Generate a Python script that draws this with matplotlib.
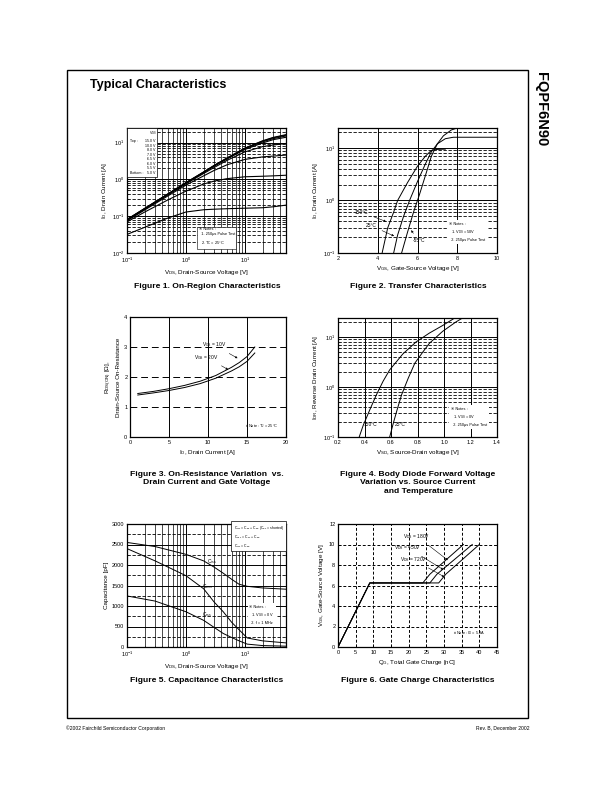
import matplotlib
matplotlib.use('Agg')
import matplotlib.pyplot as plt
from matplotlib.patches import Rectangle
from matplotlib.ticker import MultipleLocator, NullFormatter

plt.rcParams['font.family'] = ['Liberation Sans', 'DejaVu Sans', 'Noto Sans CJK JP']
plt.rcParams['mathtext.fontset'] = 'custom'
plt.rcParams['mathtext.rm'] = 'Liberation Sans'
plt.rcParams['mathtext.it'] = 'Liberation Sans:italic'
plt.rcParams['mathtext.bf'] = 'Liberation Sans:bold'
plt.rcParams['mathtext.default'] = 'regular'

# ---- Figure 1: on-region characteristics (V_DS, I_D per V_GS) ----
vds1 = [0.1, 0.2, 0.5, 1, 2, 3, 5, 10, 20, 30, 50]
on_region = {
    '15.0 V': [0.082, 0.164, 0.41, 0.82, 1.6, 2.4, 3.85, 7.1, 11.2, 13.8, 16.5],
    '10.0 V': [0.081, 0.162, 0.405, 0.81, 1.58, 2.37, 3.8, 7.0, 11.0, 13.5, 16.0],
    '8.0 V': [0.080, 0.160, 0.40, 0.80, 1.56, 2.33, 3.72, 6.8, 10.5, 12.8, 15.2],
    '7.0 V': [0.079, 0.158, 0.395, 0.79, 1.53, 2.28, 3.6, 6.5, 9.8, 12.0, 14.0],
    '6.5 V': [0.078, 0.155, 0.385, 0.76, 1.45, 2.1, 3.3, 5.6, 7.8, 8.6, 9.5],
    '6.0 V': [0.075, 0.148, 0.36, 0.70, 1.25, 1.75, 2.5, 3.5, 4.1, 4.3, 4.6],
    '5.5 V': [0.070, 0.13, 0.28, 0.48, 0.75, 0.9, 1.05, 1.18, 1.22, 1.25, 1.3],
    '5.0 V': [0.032, 0.05, 0.09, 0.13, 0.15, 0.155, 0.16, 0.165, 0.17, 0.18, 0.2],
}

# ---- Figure 2: transfer characteristics ----
vgs_150 = [4.22, 4.5, 4.8, 5.0, 5.5, 6.0, 6.4, 6.7, 7.0, 7.4]
id_150 = [0.1, 0.3, 0.6, 1.0, 2.2, 4.5, 7.0, 9.0, 9.4, 9.5]
vgs_25 = [4.8, 5.0, 5.3, 5.6, 6.0, 6.4, 6.7, 7.0, 7.4, 7.8, 10]
id_25 = [0.1, 0.22, 0.5, 1.0, 2.3, 5.0, 8.5, 12, 15, 16, 16]
vgs_m55 = [5.2, 5.5, 5.8, 6.1, 6.4, 6.7, 7.0, 7.3, 7.7, 8.0, 10]
id_m55 = [0.1, 0.25, 0.6, 1.3, 3.0, 7.0, 12, 17, 22, 24, 24]

# ---- Figure 3: on-resistance vs drain current ----
id3 = [1, 3, 5, 7, 9, 11, 13, 14, 15, 16]
rds_10v = [1.45, 1.52, 1.61, 1.72, 1.86, 2.05, 2.32, 2.48, 2.68, 3.0]
rds_20v = [1.40, 1.47, 1.55, 1.65, 1.78, 1.96, 2.20, 2.34, 2.52, 2.8]

# ---- Figure 4: body diode forward voltage ----
vsd_150 = [0.36, 0.39, 0.44, 0.49, 0.54, 0.59, 0.69, 0.79, 0.89, 0.99, 1.07]
isd_150 = [0.1, 0.17, 0.35, 0.7, 1.3, 2.2, 4.6, 8.0, 12, 17, 23]
vsd_25 = [0.59, 0.62, 0.65, 0.68, 0.73, 0.78, 0.84, 0.89, 0.99, 1.09, 1.14]
isd_25 = [0.1, 0.2, 0.38, 0.7, 1.5, 3.0, 5.0, 7.5, 13, 20, 24]

# ---- Figure 5: capacitance ----
vds5 = [0.1, 0.3, 1, 2, 3, 4.3, 6, 8, 11, 20, 50]
c_iss = [2550, 2450, 2260, 2100, 1950, 1800, 1650, 1530, 1480, 1440, 1410]
c_oss = [2400, 2100, 1740, 1420, 1100, 860, 600, 420, 220, 150, 100]
c_rss = [1245, 1120, 860, 650, 480, 330, 230, 150, 70, 35, 20]

# ---- Figure 6: gate charge ----
qg_180 = [0, 9, 24, 26, 35.5]
qg_450 = [0, 9, 26, 28, 38]
qg_720 = [0, 9, 28.5, 30.5, 40]
vgs6 = [0, 6.25, 6.25, 7.1, 10]

W, H = 612, 792
fig = plt.figure(figsize=(6.12, 7.92), dpi=100)


def box(l, t, r, b):
    return [l / W, 1 - b / H, (r - l) / W, (b - t) / H]


def ftext(x, y, s, **kw):
    fig.text(x / W, 1 - y / H, s, **kw)


def style(ax):
    ax.tick_params(which='both', direction='in', labelsize=4, length=2, width=0.5, pad=2)
    ax.tick_params(which='minor', length=1)
    for sp in ax.spines.values():
        sp.set_linewidth(0.9)


def note(ax, x, y, s, edge='none'):
    ax.text(x, y, s, transform=ax.transAxes, fontsize=2.8, va='center', ha='left',
            linespacing=1.6, zorder=5,
            bbox=dict(boxstyle='square,pad=0.4', fc='white', ec=edge, lw=0.4))


solid = dict(color='k', lw=0.7, ls='-')
arrow = dict(arrowstyle='-|>', lw=0.4, color='k', mutation_scale=3)
lbl = dict(fontsize=4.5, labelpad=2)
cap = dict(fontsize=6.1, fontweight='bold', ha='center')

# page frame
fig.add_artist(Rectangle((67 / W, 1 - 718 / H), (528 - 67) / W, (718 - 70) / H,
                         transform=fig.transFigure, fill=False, lw=1.0, ec='k'))
ftext(90, 85, 'Typical Characteristics', fontsize=9, fontweight='bold', va='center')
ftext(541, 72, 'FQPF6N90', fontsize=10.5, fontweight='bold', rotation=-90, va='top', ha='center')
ftext(66, 728, '\u00a92002 Fairchild Semiconductor Corporation', fontsize=3.6, va='center')
ftext(530, 728, 'Rev. B, December 2002', fontsize=3.6, va='center', ha='right')

# Figure 1
ax1 = fig.add_axes(box(127, 128, 286, 253))
ax1.set_xscale('log')
ax1.set_yscale('log')
for k, v in on_region.items():
    ax1.plot(vds1, v, color='k', lw=0.8)
ax1.set_xlim(0.1, 50)
ax1.set_ylim(0.01, 25)
ax1.xaxis.set_minor_formatter(NullFormatter())
ax1.yaxis.set_minor_formatter(NullFormatter())
ax1.grid(True, which='major', **solid)
ax1.grid(True, which='minor', axis='x', color='k', lw=0.5, ls='-')
ax1.grid(True, which='minor', axis='y', color='k', lw=0.6, ls=(0, (4, 2)))
style(ax1)
ax1.add_patch(Rectangle((0, 0.61), 0.19, 0.39, transform=ax1.transAxes,
                        fc='white', ec='k', lw=0.5, zorder=4))
ax1.text(0.165, 0.985, 'V$_{GS}$', transform=ax1.transAxes, fontsize=2.6,
         ha='center', va='top', zorder=5)
ax1.text(0.02, 0.895, 'Top :', transform=ax1.transAxes, fontsize=2.6, va='center', zorder=5)
ax1.text(0.02, 0.643, 'Bottom :', transform=ax1.transAxes, fontsize=2.6, va='center', zorder=5)
for i, k in enumerate(on_region):
    ax1.text(0.18, 0.895 - i * 0.036, k, transform=ax1.transAxes, fontsize=2.6,
             ha='right', va='center', zorder=5)
note(ax1, 0.45, 0.13, '\u203b Notes :\n  1. 250\u03bcs Pulse Test\n  2. T$_C$ = 25\u00b0C', edge='k')
ax1.set_xlabel('V$_{DS}$, Drain-Source Voltage [V]', **lbl)
ax1.set_ylabel('I$_D$, Drain Current [A]', **lbl)
ftext(207, 287, 'Figure 1. On-Region Characteristics', va='center', **cap)

# Figure 2
ax2 = fig.add_axes(box(338, 128, 497, 253))
ax2.set_yscale('log')
ax2.plot(vgs_150, id_150, color='k', lw=0.7)
ax2.plot(vgs_25, id_25, color='k', lw=0.7)
ax2.plot(vgs_m55, id_m55, color='k', lw=0.7)
ax2.set_xlim(2, 10)
ax2.set_ylim(0.1, 24)
ax2.xaxis.set_major_locator(MultipleLocator(2))
ax2.yaxis.set_minor_formatter(NullFormatter())
ax2.grid(True, which='major', **solid)
ax2.grid(True, which='minor', axis='y', color='k', lw=0.6, ls=(0, (4, 2)))
style(ax2)
ax2.annotate('150\u00b0C', xy=(4.55, 0.38), xytext=(2.85, 0.6), fontsize=3.5,
             va='center', arrowprops=arrow)
ax2.annotate('25\u00b0C', xy=(4.95, 0.2), xytext=(3.4, 0.33), fontsize=3.5,
             va='center', arrowprops=arrow)
ax2.annotate('-55\u00b0C', xy=(5.6, 0.3), xytext=(5.75, 0.17), fontsize=3.5,
             va='center', arrowprops=arrow)
note(ax2, 0.70, 0.17, '\u203b Notes :\n  1. V$_{DS}$ = 50V\n  2. 250\u03bcs Pulse Test')
ax2.set_xlabel('V$_{GS}$, Gate-Source Voltage [V]', **lbl)
ax2.set_ylabel('I$_D$, Drain Current [A]', **lbl)
ftext(418, 287, 'Figure 2. Transfer Characteristics', va='center', **cap)

# Figure 3
ax3 = fig.add_axes(box(130, 317, 286, 437))
ax3.plot(id3, rds_10v, color='k', lw=0.7)
ax3.plot(id3, rds_20v, color='k', lw=0.7)
ax3.set_xlim(0, 20)
ax3.set_ylim(0, 4)
ax3.xaxis.set_major_locator(MultipleLocator(5))
ax3.yaxis.set_major_locator(MultipleLocator(1))
ax3.grid(True, which='major', axis='x', **solid)
ax3.grid(True, which='major', axis='y', color='k', lw=0.7, ls=(0, (7, 4)))
style(ax3)
ax3.annotate('V$_{GS}$ = 10V', xy=(14.1, 2.58), xytext=(9.2, 3.07), fontsize=3.5,
             va='center', arrowprops=arrow)
ax3.annotate('V$_{GS}$ = 20V', xy=(12.9, 2.2), xytext=(8.2, 2.66), fontsize=3.5,
             va='center', arrowprops=arrow)
ax3.text(14.7, 0.36, '\u203b Note : T$_J$ = 25\u00b0C', fontsize=2.8, va='center')
ax3.set_xlabel('I$_D$, Drain Current [A]', **lbl)
ax3.set_ylabel('R$_{DS(ON)}$ [\u03a9],\nDrain-Source On-Resistance', linespacing=1.5, **lbl)
ftext(207, 471, 'Figure 3. On-Resistance Variation  vs.\nDrain Current and Gate Voltage',
      va='top', linespacing=1.3, **cap)

# Figure 4
ax4 = fig.add_axes(box(338, 318, 497, 437))
ax4.set_yscale('log')
ax4.plot(vsd_150, isd_150, color='k', lw=0.7)
ax4.plot(vsd_25, isd_25, color='k', lw=0.7)
ax4.set_xlim(0.2, 1.4)
ax4.set_ylim(0.1, 24)
ax4.xaxis.set_major_locator(MultipleLocator(0.2))
ax4.yaxis.set_minor_formatter(NullFormatter())
ax4.grid(True, which='major', **solid)
ax4.grid(True, which='minor', axis='y', color='k', lw=0.6, ls=(0, (4, 2)))
style(ax4)
ax4.text(0.39, 0.18, '150\u00b0C', fontsize=3.5, va='center')
ax4.text(0.63, 0.18, '25\u00b0C', fontsize=3.5, va='center')
note(ax4, 0.71, 0.17, '\u203b Notes :\n  1. V$_{GS}$ = 0V\n  2. 250\u03bcs Pulse Test')
ax4.set_xlabel('V$_{SD}$, Source-Drain voltage [V]', **lbl)
ax4.set_ylabel('I$_{DR}$, Reverse Drain Current [A]', **lbl)
ftext(418, 471, 'Figure 4. Body Diode Forward Voltage\nVariation vs. Source Current\nand Temperature',
      va='top', linespacing=1.3, **cap)

# Figure 5
ax5 = fig.add_axes(box(127, 524, 286, 647))
ax5.set_xscale('log')
ax5.plot(vds5, c_iss, color='k', lw=0.7)
ax5.plot(vds5, c_oss, color='k', lw=0.7)
ax5.plot(vds5, c_rss, color='k', lw=0.7)
ax5.set_xlim(0.1, 50)
ax5.set_ylim(0, 3000)
ax5.yaxis.set_major_locator(MultipleLocator(500))
ax5.yaxis.set_minor_locator(MultipleLocator(250))
ax5.xaxis.set_minor_formatter(NullFormatter())
ax5.grid(True, which='major', **solid)
ax5.grid(True, which='minor', axis='x', color='k', lw=0.5, ls='-')
ax5.grid(True, which='minor', axis='y', color='k', lw=0.6, ls=(0, (4, 2)))
style(ax5)
ax5.text(2.3, 2080, 'C$_{iss}$', fontsize=3.5, va='center')
ax5.text(1.9, 1480, 'C$_{oss}$', fontsize=3.5, va='center')
ax5.text(1.9, 780, 'C$_{rss}$', fontsize=3.5, va='center')
ax5.text(0.67, 0.9, 'C$_{iss}$ = C$_{gs}$ + C$_{gd}$ (C$_{ds}$ = shorted)\n'
         'C$_{oss}$ = C$_{ds}$ + C$_{gd}$\nC$_{rss}$ = C$_{gd}$',
         transform=ax5.transAxes, fontsize=2.5, va='center', linespacing=1.4, zorder=5,
         bbox=dict(boxstyle='square,pad=0.6', fc='white', ec='k', lw=0.5))
note(ax5, 0.77, 0.26, '\u203b Notes :\n  1. V$_{GS}$ = 0 V\n  2. f = 1 MHz')
ax5.set_xlabel('V$_{DS}$, Drain-Source Voltage [V]', **lbl)
ax5.set_ylabel('Capacitance [pF]', **lbl)
ftext(207, 681, 'Figure 5. Capacitance Characteristics', va='center', **cap)

# Figure 6
ax6 = fig.add_axes(box(338, 524, 497, 647))
ax6.plot(qg_180, vgs6, color='k', lw=0.7)
ax6.plot(qg_450, vgs6, color='k', lw=0.7)
ax6.plot(qg_720, vgs6, color='k', lw=0.7)
ax6.set_xlim(0, 45)
ax6.set_ylim(0, 12)
ax6.xaxis.set_major_locator(MultipleLocator(5))
ax6.yaxis.set_major_locator(MultipleLocator(2))
ax6.grid(True, which='major', color='k', lw=0.7, ls=(0, (3, 2)))
style(ax6)
ax6.annotate('V$_{DS}$ = 180V', xy=(31.7, 8.3), xytext=(18.5, 10.8), fontsize=3.5,
             va='center', arrowprops=arrow)
ax6.annotate('V$_{DS}$ = 450V', xy=(30.5, 7.4), xytext=(15.8, 9.7), fontsize=3.5,
             va='center', arrowprops=arrow)
ax6.annotate('V$_{DS}$ = 720V', xy=(30.8, 6.7), xytext=(17.5, 8.55), fontsize=3.5,
             va='center', arrowprops=arrow)
ax6.text(32.5, 1.35, '\u203b Note : I$_D$ = 5.8A', fontsize=2.8, va='center')
ax6.set_xlabel('Q$_G$, Total Gate Charge [nC]', **lbl)
ax6.set_ylabel('V$_{GS}$, Gate-Source Voltage [V]', **lbl)
ftext(418, 681, 'Figure 6. Gate Charge Characteristics', va='center', **cap)

fig.savefig('out.png', dpi=100)
